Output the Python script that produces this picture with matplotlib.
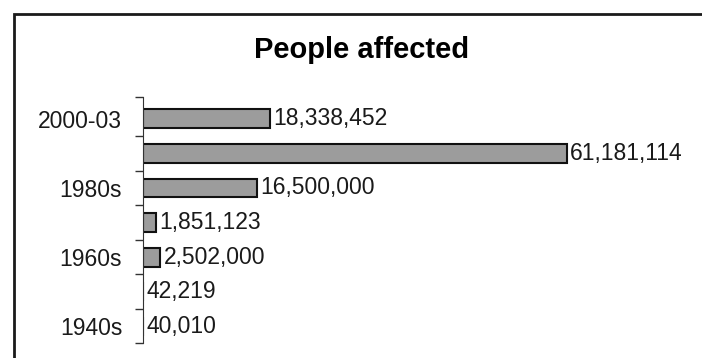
import matplotlib.pyplot as plt
from matplotlib.patches import Rectangle

plt.rcParams['font.family'] = ['Liberation Sans', 'DejaVu Sans']

# decades, bottom to top
decades = ["1940s", "1950s", "1960s", "1970s", "1980s", "1990s", "2000-03"]
shown_labels = ["1940s", "", "1960s", "", "1980s", "", "2000-03"]
affected = [40010, 42219, 2502000, 1851123, 16500000, 61181114, 18338452]

W, H = 702, 358
fig = plt.figure(figsize=(W / 100, H / 100), dpi=100)

# frame around the chart (runs off the right and bottom edges)
fig.patches.append(Rectangle((13.5 / W, -0.1), 1.2, (H - 13.5) / H + 0.1,
                             transform=fig.transFigure, fill=False,
                             edgecolor='#1a1a1a', linewidth=2.0))

fig.text(362 / W, (H - 58) / H, "People affected", ha='center', va='baseline',
         fontsize=21, fontweight='bold')

ax = fig.add_axes([143 / W, (H - 343) / H, 554 / W, 246 / H])
y = list(range(len(decades)))
bars = ax.barh(y, affected, height=0.54, color='#9c9c9c',
               edgecolor='#111111', linewidth=1.5)

for b, v in zip(bars, affected):
    ax.annotate(f"{v:,}", (b.get_width(), b.get_y() + b.get_height() / 2),
                xytext=(2.5, 0), textcoords='offset points',
                ha='left', va='center', fontsize=16.5, color='#1a1a1a')

ax.set_xlim(0, 80e6)
ax.set_ylim(-0.48, 6.63)
ax.set_yticks(y)
ax.set_yticklabels(shown_labels, fontsize=16.5, color='#1a1a1a')
ax.tick_params(axis='y', which='major', length=0, pad=15)
ax.set_yticks([-0.48, 0.5, 1.5, 2.5, 3.5, 4.5, 5.5, 6.63], minor=True)
ax.tick_params(axis='y', which='minor', length=6, width=1, color='#333333')
ax.set_xticks([])
for side in ['top', 'right', 'bottom']:
    ax.spines[side].set_visible(False)
ax.spines['left'].set_color('#333333')
ax.patch.set_visible(False)

fig.savefig("out.png", dpi=100)
